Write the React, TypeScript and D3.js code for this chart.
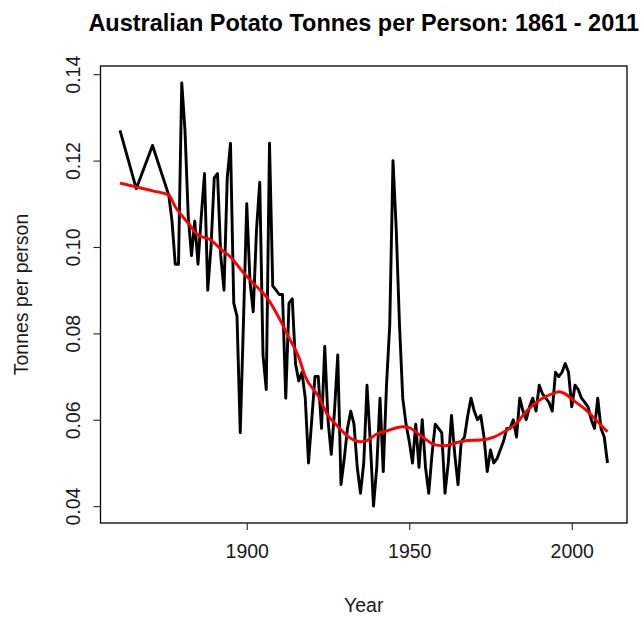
import React, { useRef, useEffect } from 'react';
import * as d3 from 'd3';

// yearly potato tonnes per person (census years first, then annual)
const years = [
  1861, 1866, 1871,
  1876, 1877, 1878, 1879, 1880, 1881, 1882, 1883, 1884, 1885, 1886, 1887, 1888, 1889,
  1890, 1891, 1892, 1893, 1894, 1895, 1896, 1897, 1898, 1899,
  1900, 1901, 1902, 1903, 1904, 1905, 1906, 1907, 1908, 1909,
  1910, 1911, 1912, 1913, 1914, 1915, 1916, 1917, 1918, 1919,
  1920, 1921, 1922, 1923, 1924, 1925, 1926, 1927, 1928, 1929,
  1930, 1931, 1932, 1933, 1934, 1935, 1936, 1937, 1938, 1939,
  1940, 1941, 1942, 1943, 1944, 1945, 1946, 1947, 1948, 1949,
  1950, 1951, 1952, 1953, 1954, 1955, 1956, 1957, 1958, 1959,
  1960, 1961, 1962, 1963, 1964, 1965, 1966, 1967, 1968, 1969,
  1970, 1971, 1972, 1973, 1974, 1975, 1976, 1977, 1978, 1979,
  1980, 1981, 1982, 1983, 1984, 1985, 1986, 1987, 1988, 1989,
  1990, 1991, 1992, 1993, 1994, 1995, 1996, 1997, 1998, 1999,
  2000, 2001, 2002, 2003, 2004, 2005, 2006, 2007, 2008, 2009,
  2010, 2011,
];

const tonnes = [
  0.127, 0.1135, 0.1235,
  0.112, 0.106, 0.096, 0.096, 0.138, 0.127, 0.107, 0.098, 0.106, 0.096, 0.107, 0.117, 0.090, 0.100,
  0.116, 0.117, 0.098, 0.090, 0.116, 0.124, 0.087, 0.084, 0.057, 0.083,
  0.110, 0.092, 0.085, 0.104, 0.115, 0.075, 0.067, 0.124, 0.091, 0.090,
  0.089, 0.089, 0.065, 0.087, 0.088, 0.073, 0.069, 0.071, 0.065, 0.050,
  0.060, 0.070, 0.070, 0.058, 0.077, 0.060, 0.052, 0.062, 0.075, 0.045,
  0.051, 0.058, 0.062, 0.059, 0.049, 0.043, 0.050, 0.068, 0.055, 0.040,
  0.049, 0.065, 0.048, 0.068, 0.082, 0.120, 0.104, 0.082, 0.065, 0.059,
  0.055, 0.050, 0.059, 0.049, 0.060, 0.049, 0.043, 0.052, 0.059, 0.058,
  0.057, 0.043, 0.050, 0.061, 0.052, 0.045, 0.055, 0.056, 0.061, 0.065,
  0.062, 0.060, 0.061, 0.056, 0.048, 0.053, 0.050, 0.051, 0.053, 0.055,
  0.058, 0.058, 0.060, 0.056, 0.065, 0.062, 0.060, 0.063, 0.065, 0.062,
  0.068, 0.066, 0.065, 0.064, 0.062, 0.071, 0.070, 0.071, 0.073, 0.071,
  0.063, 0.068, 0.067, 0.065, 0.064, 0.063, 0.060, 0.058, 0.065, 0.058,
  0.056, 0.050,
];

// smoothed trend (red line)
const smoothYears = [
  1861, 1866, 1871, 1876, 1878, 1882, 1885, 1889, 1892, 1895, 1899, 1902, 1906, 1910,
  1913, 1916, 1918, 1922, 1925, 1928, 1931, 1935, 1937, 1940, 1943, 1948, 1950, 1952,
  1955, 1958, 1961, 1965, 1968, 1972, 1976, 1980, 1983, 1986, 1991, 1994, 1996, 1998,
  2001, 2004, 2007, 2011,
];
const smoothTonnes = [
  0.1148, 0.1139, 0.113, 0.112, 0.1093, 0.1055, 0.1028, 0.1016, 0.0995, 0.0977, 0.094, 0.0916, 0.0885, 0.0835,
  0.079, 0.0745, 0.070, 0.0655, 0.061, 0.0585, 0.0562, 0.0549, 0.0552, 0.0567, 0.0574, 0.0584, 0.0582, 0.0572,
  0.0555, 0.0542, 0.054, 0.0548, 0.0552, 0.0553, 0.056, 0.0576, 0.0592, 0.0619, 0.065, 0.066, 0.0665, 0.066,
  0.0642, 0.0625, 0.0603, 0.0572,
];

const xTicks = [1900, 1950, 2000];
const yTicks = [0.04, 0.06, 0.08, 0.10, 0.12, 0.14];

const LineChart = () => {
  const svgRef = useRef<SVGSVGElement>(null);

  useEffect(() => {
    drawChart();
  }, []);

  const drawChart = () => {
    const svg = d3.select(svgRef.current);
    svg.selectAll('*').remove();

    const width = 641;
    const height = 619;
    const left = 100.5, right = 627, top = 66, bottom = 523;
    const font = '"Liberation Sans", Arial, sans-serif';

    const x = d3.scaleLinear().domain([1855, 2017]).range([left, right]);
    const y = d3.scaleLinear().domain([0.0361, 0.1419]).range([bottom, top]);

    svg.attr('width', width).attr('height', height);

    const pts = years.map((yr, i) => [yr, tonnes[i]] as [number, number]);
    const line = d3.line<[number, number]>()
      .x(d => x(d[0]))
      .y(d => y(d[1]));

    svg.append('path')
      .datum(pts)
      .attr('d', line)
      .attr('fill', 'none')
      .attr('stroke', 'black')
      .attr('stroke-width', 2.9)
      .attr('stroke-linejoin', 'round');

    const smooth = smoothYears.map((yr, i) => [yr, smoothTonnes[i]] as [number, number]);
    svg.append('path')
      .datum(smooth)
      .attr('d', line.curve(d3.curveMonotoneX))
      .attr('fill', 'none')
      .attr('stroke', '#ff0000')
      .attr('stroke-width', 2.9);

    // box
    svg.append('rect')
      .attr('x', left)
      .attr('y', top)
      .attr('width', right - left)
      .attr('height', bottom - top)
      .attr('fill', 'none')
      .attr('stroke', 'black')
      .attr('stroke-width', 1.3);

    // x axis
    const xa = svg.append('g').attr('transform', `translate(0,${bottom})`)
      .call(d3.axisBottom(x).tickValues(xTicks).tickFormat(d3.format('d')).tickSize(7).tickPadding(14));
    xa.select('.domain').remove();
    xa.selectAll('line').attr('stroke', '#222').attr('stroke-width', 1.1);
    xa.selectAll('text')
      .attr('fill', '#1a1a1a')
      .style('font-family', font)
      .style('font-size', '19.5px');

    // y axis
    const ya = svg.append('g').attr('transform', `translate(${left},0)`)
      .call(d3.axisLeft(y).tickValues(yTicks).tickFormat(d3.format('.2f')).tickSize(7).tickPadding(0));
    ya.select('.domain').remove();
    ya.selectAll('line').attr('stroke', '#222').attr('stroke-width', 1.1);
    ya.selectAll('text')
      .attr('fill', '#1a1a1a')
      .attr('x', null)
      .attr('dy', null)
      .attr('transform', 'translate(-21,0) rotate(-90)')
      .attr('text-anchor', 'middle')
      .style('font-family', font)
      .style('font-size', '19.5px');

    svg.append('text')
      .attr('x', (left + right) / 2)
      .attr('y', 31)
      .attr('text-anchor', 'middle')
      .style('font-family', font)
      .style('font-weight', 'bold')
      .style('font-size', '23.5px')
      .text('Australian Potato Tonnes per Person: 1861 - 2011');

    svg.append('text')
      .attr('x', (left + right) / 2)
      .attr('y', 612)
      .attr('text-anchor', 'middle')
      .attr('fill', '#1a1a1a')
      .style('font-family', font)
      .style('font-size', '19.5px')
      .text('Year');

    svg.append('text')
      .attr('transform', `translate(28,${(top + bottom) / 2}) rotate(-90)`)
      .attr('text-anchor', 'middle')
      .attr('fill', '#1a1a1a')
      .style('font-family', font)
      .style('font-size', '19.5px')
      .text('Tonnes per person');
  };

  return (
    <svg ref={svgRef} style={{ position: 'absolute', left: 0, top: 0, background: 'white' }}></svg>
  );
};

export default function App() {
  return <LineChart />;
}
